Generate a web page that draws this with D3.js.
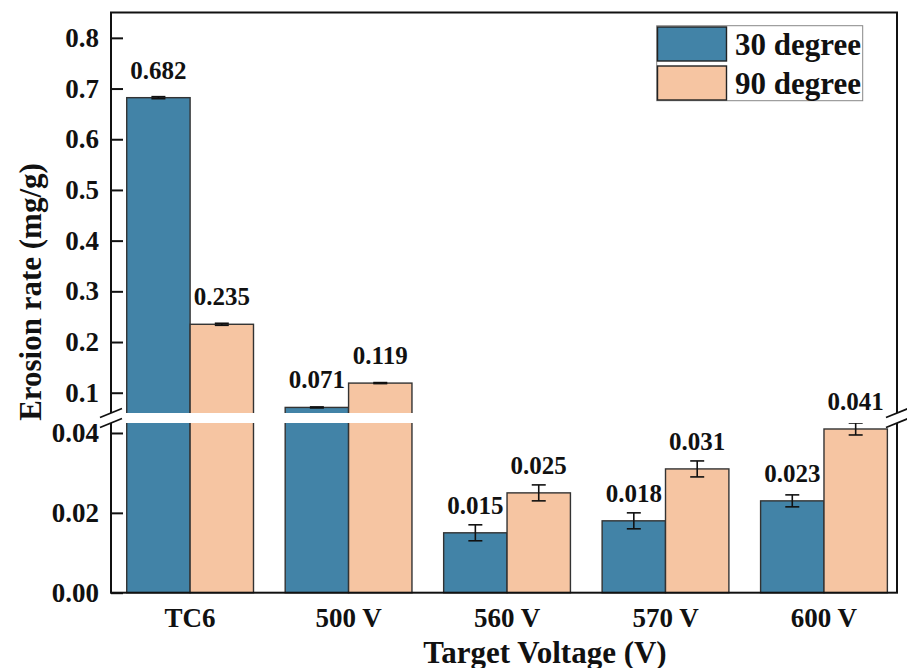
<!DOCTYPE html>
<html>
<head>
<meta charset="utf-8">
<script src="https://cdn.jsdelivr.net/npm/d3@7"></script>
<style>
  html, body { margin: 0; padding: 0; background: #fff; }
  svg { display: block; font-family: "Liberation Serif", "Times New Roman", serif; font-weight: bold; }
</style>
</head>
<body>
<svg id="chart" width="907" height="668"></svg>
<script>
// Erosion rate per target voltage, for two impact angles
const categories = ["TC6", "500 V", "560 V", "570 V", "600 V"];
const seriesNames = ["30 degree", "90 degree"];
const values30 = [0.682, 0.071, 0.015, 0.018, 0.023];
const values90 = [0.235, 0.119, 0.025, 0.031, 0.041];
const errors30 = [0.002, 0.001, 0.002, 0.002, 0.0015];
const errors90 = [0.002, 0.001, 0.002, 0.002, 0.0015];
const upperTicks = [0.1, 0.2, 0.3, 0.4, 0.5, 0.6, 0.7, 0.8];
const lowerTicks = [0.00, 0.02, 0.04];
const upperDomain = [0.06, 0.85];
const lowerDomain = [0, 0.0425];

const colors = ["#4283a7", "#f6c5a2"];
const serif = "Liberation Serif, Times New Roman, serif";

const svg = d3.select("#chart");
const plotLeft = 111, plotRight = 897, plotTop = 12.5, plotBottom = 592.7;
const breakTop = 413, breakBottom = 423;

// Broken y axis: two linear segments
const yUpper = d3.scaleLinear().domain(upperDomain).range([breakTop, plotTop]);
const yLower = d3.scaleLinear().domain(lowerDomain).range([plotBottom, breakBottom]);
const y = v => (v > lowerDomain[1] ? yUpper(v) : yLower(v));

const x0 = d3.scaleBand().domain(categories).range([plotLeft, plotRight])
  .paddingInner(0.2).paddingOuter(0.08).align(0.62);
const x1 = d3.scaleBand().domain(seriesNames).range([0, x0.bandwidth()]);

const rows = [];
categories.forEach((c, i) => {
  rows.push({ cat: c, s: seriesNames[0], v: values30[i], e: errors30[i], color: colors[0] });
  rows.push({ cat: c, s: seriesNames[1], v: values90[i], e: errors90[i], color: colors[1] });
});
const cx = d => x0(d.cat) + x1(d.s) + x1.bandwidth() / 2;

// Bars
const g = svg.append("g");
g.selectAll("rect.bar").data(rows).join("rect")
  .attr("class", "bar")
  .attr("x", d => x0(d.cat) + x1(d.s))
  .attr("width", x1.bandwidth())
  .attr("y", d => y(d.v))
  .attr("height", d => plotBottom - y(d.v))
  .attr("fill", d => d.color)
  .attr("stroke", "#333")
  .attr("stroke-width", 1.4);

// Error bars
const cap = 7;
const eb = g.selectAll("g.err").data(rows).join("g").attr("class", "err")
  .attr("stroke", "#111").attr("stroke-width", 1.6);
eb.append("line")
  .attr("x1", cx).attr("x2", cx)
  .attr("y1", d => y(d.v + d.e)).attr("y2", d => y(d.v - d.e));
eb.append("line")
  .attr("x1", d => cx(d) - cap).attr("x2", d => cx(d) + cap)
  .attr("y1", d => y(d.v + d.e)).attr("y2", d => y(d.v + d.e));
eb.append("line")
  .attr("x1", d => cx(d) - cap).attr("x2", d => cx(d) + cap)
  .attr("y1", d => y(d.v - d.e)).attr("y2", d => y(d.v - d.e));

// Value labels
g.selectAll("text.val").data(rows).join("text")
  .attr("class", "val")
  .attr("x", cx)
  .attr("y", d => y(d.v) - 19)
  .attr("text-anchor", "middle")
  .attr("font-size", 25)
  .attr("fill", "#111")
  .text(d => d3.format(".3f")(d.v));

// Frame
svg.append("rect")
  .attr("x", plotLeft).attr("y", plotTop)
  .attr("width", plotRight - plotLeft).attr("height", plotBottom - plotTop)
  .attr("fill", "none").attr("stroke", "#111").attr("stroke-width", 2);

// Y axes (inward ticks)
const axisUpper = d3.axisLeft(yUpper).tickValues(upperTicks).tickSize(-12).tickPadding(12)
  .tickFormat(d3.format(".1f"));
const axisLower = d3.axisLeft(yLower).tickValues(lowerTicks).tickSize(-12).tickPadding(12)
  .tickFormat(d3.format(".2f"));
[axisUpper, axisLower].forEach(ax => {
  const a = svg.append("g").attr("transform", `translate(${plotLeft},0)`).call(ax);
  a.select(".domain").remove();
  a.selectAll(".tick line").attr("stroke", "#111").attr("stroke-width", 2);
  a.selectAll(".tick text").attr("font-size", 27).attr("fill", "#111")
    .attr("font-family", serif).attr("font-weight", "bold");
});

// Axis break: white band across the plot and slanted marks
svg.append("rect")
  .attr("x", plotLeft - 1.5).attr("y", breakTop)
  .attr("width", plotRight - plotLeft + 3).attr("height", breakBottom - breakTop)
  .attr("fill", "#fff");
[plotLeft, plotRight].forEach(bx => {
  [breakTop, breakBottom].forEach(by => {
    svg.append("line")
      .attr("x1", bx - 11).attr("y1", by + 4.5)
      .attr("x2", bx + 11).attr("y2", by - 4.5)
      .attr("stroke", "#111").attr("stroke-width", 1.8);
  });
});

// X axis labels
const xa = svg.append("g").attr("transform", `translate(0,${plotBottom})`)
  .call(d3.axisBottom(x0).tickSize(0).tickPadding(15));
xa.select(".domain").remove();
xa.selectAll(".tick text").attr("font-size", 27).attr("fill", "#111")
  .attr("font-family", serif).attr("font-weight", "bold");

// Axis titles
svg.append("text")
  .attr("x", 545).attr("y", 663)
  .attr("text-anchor", "middle").attr("font-size", 31).attr("fill", "#111")
  .text("Target Voltage (V)");
svg.append("text")
  .attr("transform", "translate(41,292) rotate(-90)")
  .attr("text-anchor", "middle").attr("font-size", 31).attr("fill", "#111")
  .text("Erosion rate (mg/g)");

// Legend
const lg = svg.append("g");
lg.append("rect")
  .attr("x", 656.7).attr("y", 25.7).attr("width", 206).attr("height", 75)
  .attr("fill", "#fff").attr("stroke", "#888").attr("stroke-width", 1);
seriesNames.forEach((s, i) => {
  lg.append("rect")
    .attr("x", 657.5).attr("y", 27 + i * 39).attr("width", 69).attr("height", 34)
    .attr("fill", colors[i]).attr("stroke", "#222").attr("stroke-width", 1.4);
  lg.append("text")
    .attr("x", 735).attr("y", 55 + i * 38.5)
    .attr("font-size", 31).attr("fill", "#111")
    .text(s);
});
</script>
</body>
</html>
